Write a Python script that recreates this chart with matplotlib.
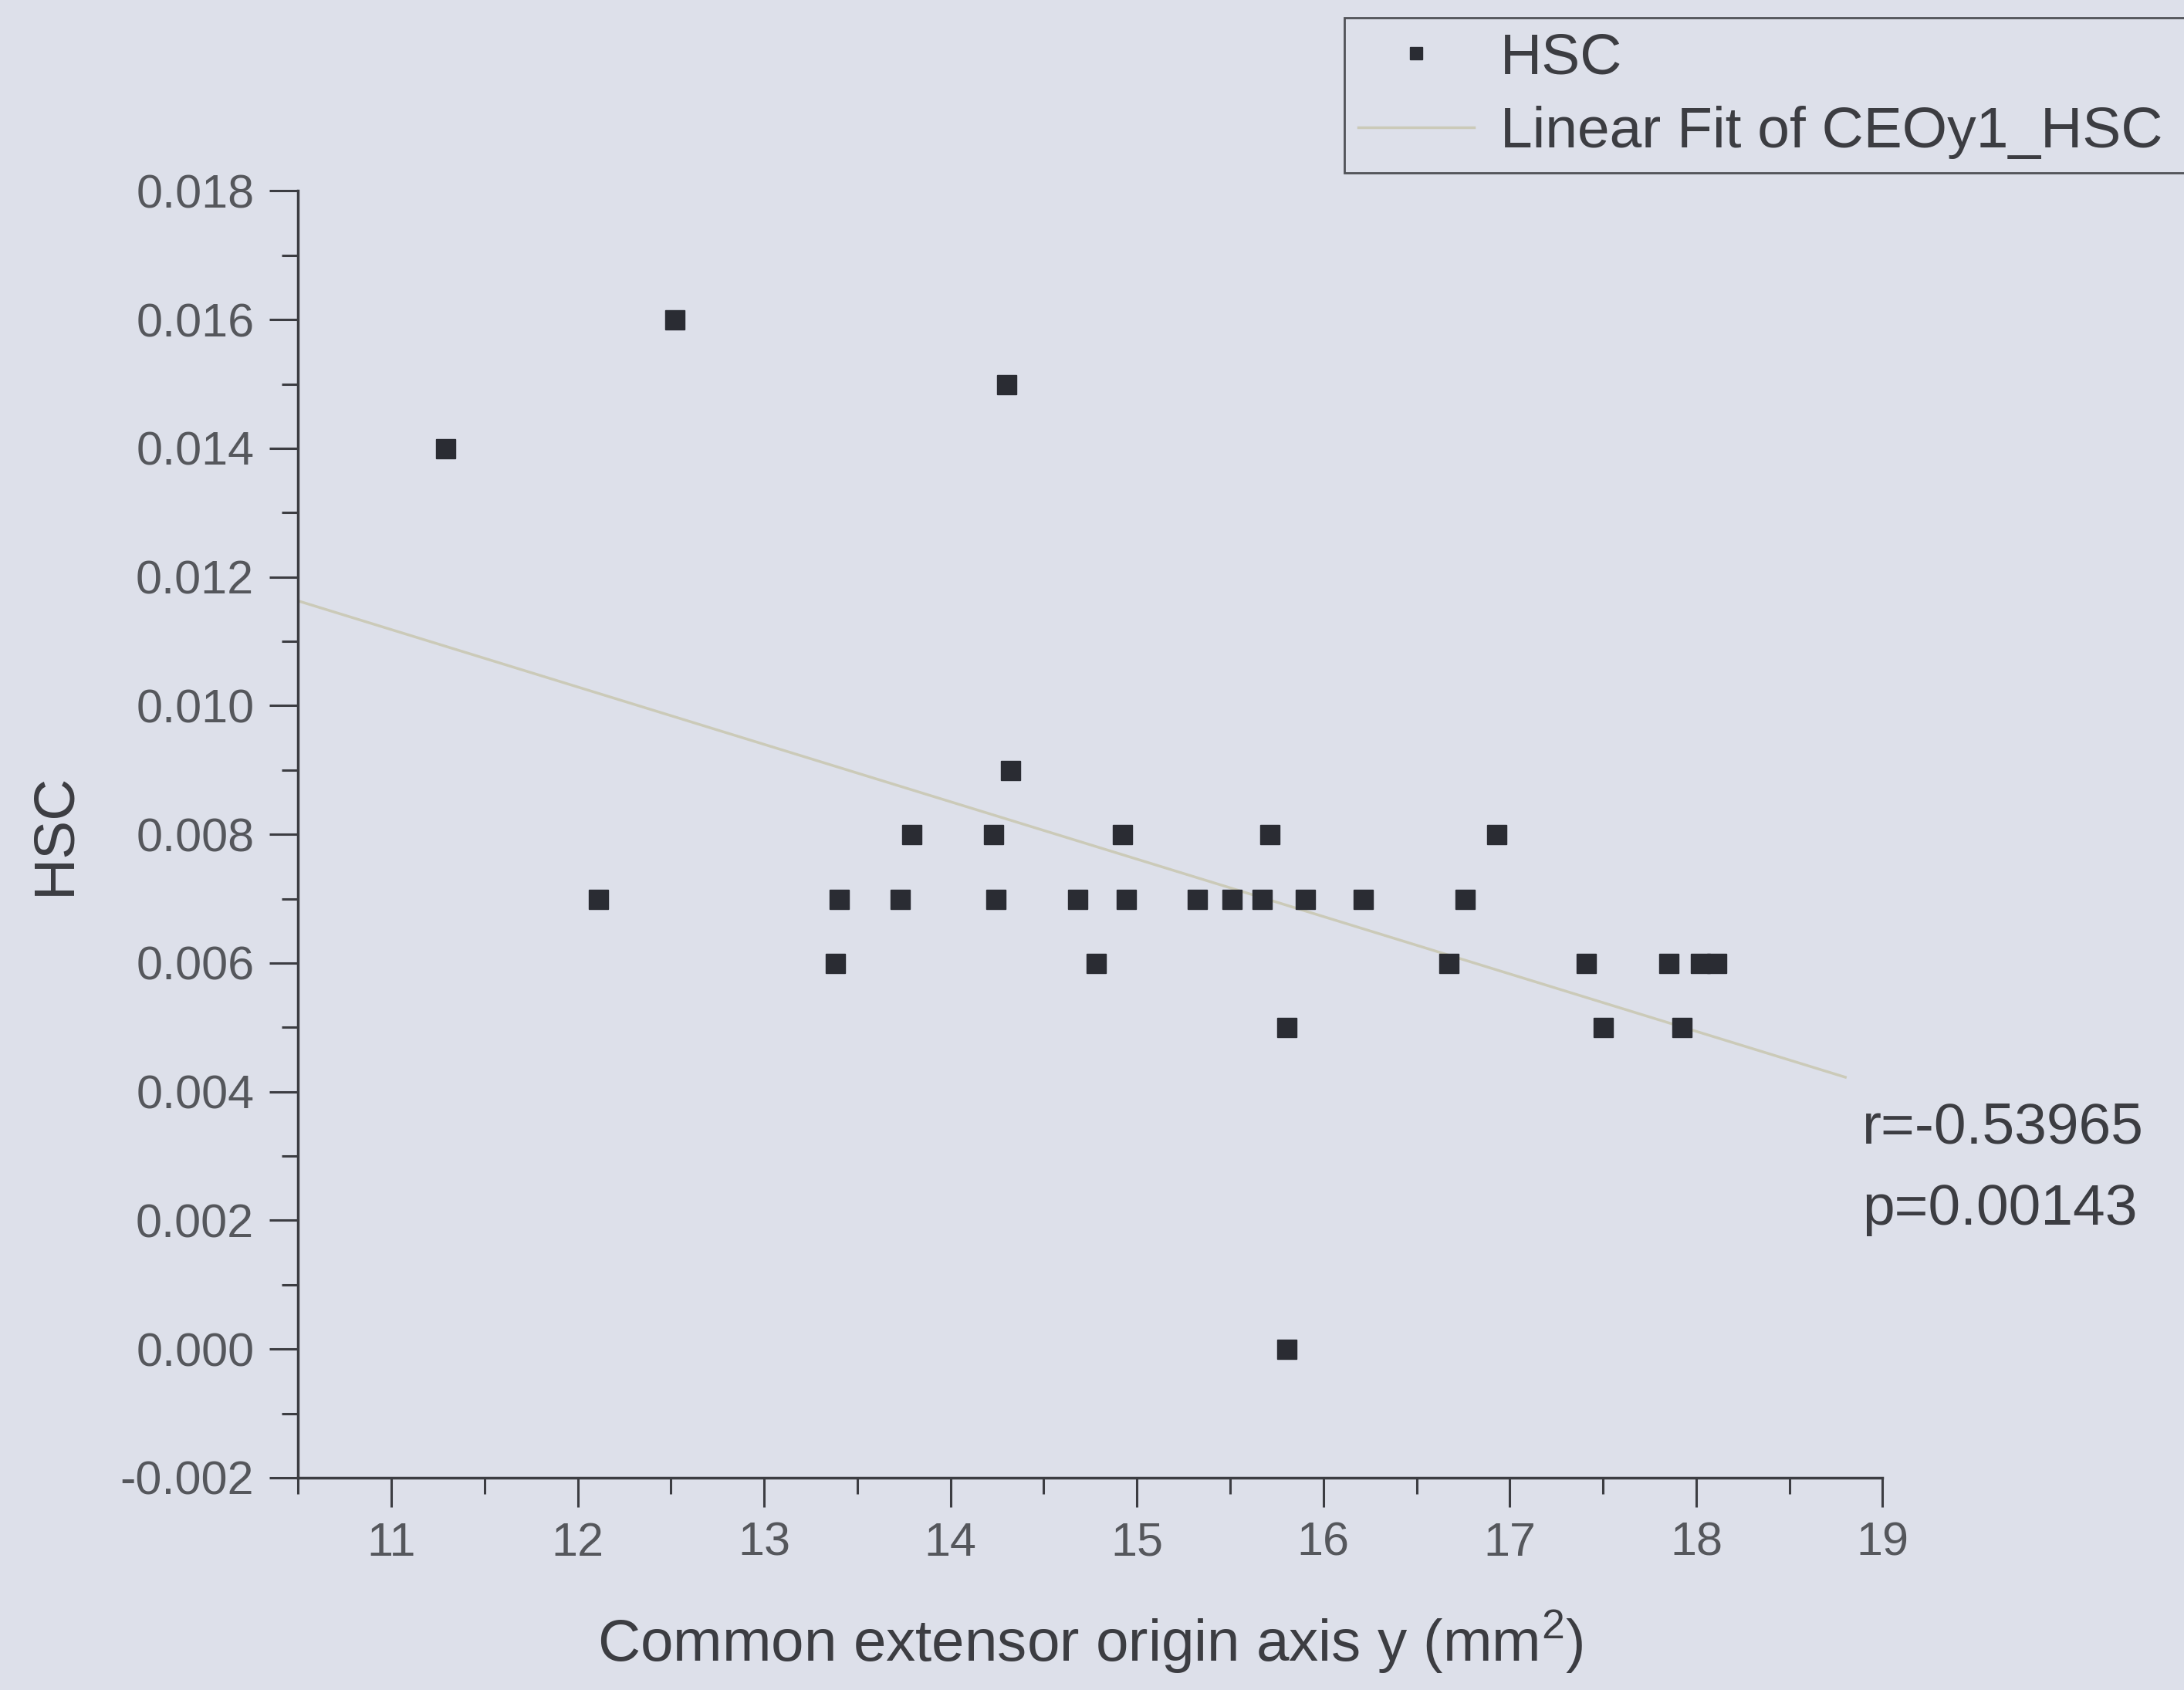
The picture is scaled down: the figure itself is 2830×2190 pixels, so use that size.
import matplotlib

matplotlib.use("Agg")
import matplotlib.pyplot as plt
import numpy as np
from matplotlib.lines import Line2D
from matplotlib.ticker import MultipleLocator, FormatStrFormatter

# Common extensor origin axis y (mm^2) against HSC
ceo_y = [
    11.29, 12.52, 12.11, 13.38, 13.40, 13.73, 13.79, 14.23, 14.24, 14.30,
    14.32, 14.68, 14.78, 14.92, 14.94, 15.32, 15.51, 15.67, 15.71, 15.80,
    15.80, 15.90, 16.21, 16.67, 16.76, 16.93, 17.41, 17.50, 17.85, 17.92,
    18.02, 18.11,
]
hsc = [
    0.014, 0.016, 0.007, 0.006, 0.007, 0.007, 0.008, 0.008, 0.007, 0.015,
    0.009, 0.007, 0.006, 0.008, 0.007, 0.007, 0.007, 0.007, 0.008, 0.005,
    0.000, 0.007, 0.007, 0.006, 0.007, 0.008, 0.006, 0.005, 0.006, 0.005,
    0.006, 0.006,
]
fit_x = [10.5, 18.8]
r_value = "-0.53965"
p_value = "0.00143"

BG = "#dde0ea"
INK = "#3c3d42"
TICK_INK = "#55575c"
FIT = "#cbcab8"

plt.rcParams["font.family"] = ["Liberation Sans", "DejaVu Sans"]
plt.rcParams["mathtext.fontset"] = "custom"
plt.rcParams["mathtext.rm"] = "Liberation Sans"

fig = plt.figure(figsize=(28.3, 21.9), dpi=100, facecolor=BG)
ax = fig.add_axes([0.1365, 0.1256, 0.862 - 0.1365, 0.887 - 0.1256])
ax.set_facecolor(BG)

slope, intercept = np.polyfit(ceo_y, hsc, 1)
fx = np.array(fit_x)
ax.plot(fx, slope * fx + intercept, color=FIT, linewidth=2.5, zorder=2)
ax.plot(ceo_y, hsc, linestyle="none", marker="s", markersize=18,
        color="#2a2c33", zorder=3)

ax.set_xlim(10.5, 19)
ax.set_ylim(-0.002, 0.018)
ax.xaxis.set_major_locator(MultipleLocator(1))
ax.xaxis.set_minor_locator(MultipleLocator(0.5))
ax.yaxis.set_major_locator(MultipleLocator(0.002))
ax.yaxis.set_minor_locator(MultipleLocator(0.001))
ax.yaxis.set_major_formatter(FormatStrFormatter("%.3f"))

for side in ("top", "right"):
    ax.spines[side].set_visible(False)
for side in ("left", "bottom"):
    ax.spines[side].set_color(INK)
    ax.spines[side].set_linewidth(2.5)

ax.tick_params(which="major", direction="out", length=27, width=2.2,
               color=INK, labelsize=44, labelcolor=TICK_INK, pad=14)
ax.tick_params(which="minor", direction="out", length=15, width=2.2, color=INK)

ax.set_xlabel(r"Common extensor origin axis y (mm$^{\mathrm{2}}$)", fontsize=55,
              color=INK, labelpad=40)
ax.set_ylabel("HSC", fontsize=54, color=INK, labelpad=36)

ax.text(2413 / 2830, 1 - 1462 / 2190, f"r={r_value}", transform=fig.transFigure,
        fontsize=54, color=INK, ha="left", va="center")
ax.text(2413 / 2830, 1 - 1567 / 2190, f"p={p_value}", transform=fig.transFigure,
        fontsize=54, color=INK, ha="left", va="center")

handles = [
    Line2D([], [], linestyle="none", marker="s", markersize=11, color="#2a2c33"),
    Line2D([], [], color=FIT, linewidth=2.5),
]
leg_top = 1 - 23 / 2190
leg = ax.legend(handles, ["HSC", "Linear Fit of CEOy1_HSC"],
                loc="upper left", mode="expand",
                bbox_to_anchor=(1742 / 2830, 0.5, 0.46, leg_top - 0.5),
                bbox_transform=fig.transFigure, fontsize=54, frameon=True,
                fancybox=False, facecolor=BG, edgecolor="#505257",
                framealpha=1, handlelength=2.0, handletextpad=0.45,
                borderpad=0.24, labelspacing=0.36, borderaxespad=0)
leg.get_frame().set_linewidth(2)
for text in leg.get_texts():
    text.set_color(INK)

fig.savefig("out.png", dpi=100, facecolor=BG)
